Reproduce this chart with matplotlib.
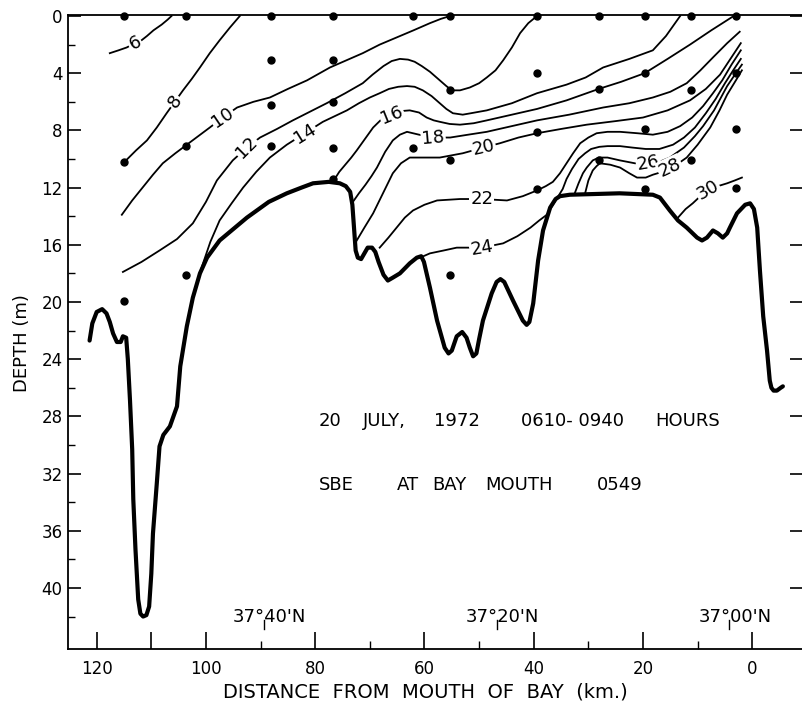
import matplotlib
matplotlib.use("Agg")
import matplotlib.pyplot as plt
from matplotlib.ticker import FixedLocator

# ---------------- data (distance km from bay mouth, depth m) ----------------
bottom_km = [121.3, 120.8, 120.0, 119.0, 118.2, 117.6, 117.0, 116.3, 115.6, 115.2, 114.6,
             114.3, 113.9, 113.5, 113.3, 112.9, 112.4, 112.0, 111.5, 110.9, 110.4,
             110.0, 109.7, 109.0, 108.5, 107.8, 106.6, 105.3, 104.7, 103.5, 102.4,
             101.1, 99.8, 97.5, 95.0, 92.5, 88.5, 85.2, 82.5, 80.4, 77.5,
             75.5, 74.4, 73.6, 73.2, 72.9, 72.6, 72.2, 71.6, 71.0, 70.4,
             69.6, 69.0, 68.4, 67.5, 66.7, 65.8, 64.5, 62.7, 61.4, 60.6,
             60.1, 59.0, 57.7, 56.3, 55.6, 55.0, 54.1, 53.1, 52.3, 51.7,
             51.1, 50.5, 50.0, 49.3, 47.7, 46.8, 46.1, 45.4, 43.8, 42.0,
             41.3, 40.8, 40.1, 39.2, 38.3, 37.0, 36.0, 35.2, 33.4, 24.3,
             18.2, 16.9, 15.1, 13.6, 12.0, 10.1, 9.2, 8.3, 7.2, 6.3,
             5.4, 4.6, 4.1, 2.8, 1.3, 0.4, -0.3, -0.9, -1.4, -2.0,
             -2.7, -3.2, -3.5, -3.9, -4.5, -5.2, -5.6]
bottom_depth = [22.7, 21.5, 20.7, 20.5, 20.8, 21.4, 22.2, 22.8, 22.8, 22.4, 22.5,
                24.0, 26.9, 30.3, 33.8, 37.3, 40.8, 41.8, 42.0, 41.9, 41.3,
                39.0, 36.2, 32.7, 30.1, 29.3, 28.7, 27.3, 24.5, 21.7, 19.7,
                18.0, 16.9, 15.7, 14.9, 14.1, 13.0, 12.4, 12.0, 11.7, 11.6,
                11.7, 11.9, 12.3, 13.2, 14.8, 16.4, 16.9, 17.0, 16.6, 16.2,
                16.2, 16.5, 17.2, 18.1, 18.5, 18.3, 18.0, 17.3, 16.9, 16.8,
                17.2, 19.0, 21.3, 23.2, 23.6, 23.4, 22.4, 22.1, 22.5, 23.2,
                23.8, 23.6, 22.6, 21.3, 19.4, 18.6, 18.4, 18.6, 19.9, 21.3,
                21.6, 21.4, 20.1, 17.1, 15.0, 13.4, 12.8, 12.6, 12.5, 12.4,
                12.5, 12.7, 13.6, 14.3, 14.8, 15.5, 15.7, 15.5, 15.0, 15.2,
                15.5, 15.2, 14.8, 13.8, 13.2, 13.1, 13.5, 14.8, 17.8, 21.0,
                23.4, 25.5, 26.0, 26.2, 26.2, 26.0, 25.9]

station_km = [115.0, 115.0, 115.0,
              103.7, 103.7, 103.7,
              88.1, 88.1, 88.1, 88.1,
              76.8, 76.8, 76.8, 76.8, 76.8,
              62.1, 62.1,
              55.3, 55.3, 55.3, 55.3,
              39.4, 39.4, 39.4, 39.4,
              28.1, 28.1, 28.1,
              19.7, 19.7, 19.7, 19.7,
              11.3, 11.3, 11.3,
              3.0, 3.0, 3.0, 3.0]
station_depth = [0.0, 10.2, 19.9,
                 0.0, 9.1, 18.1,
                 0.0, 3.1, 6.2, 9.1,
                 0.0, 3.1, 6.0, 9.2, 11.4,
                 0.0, 9.2,
                 0.0, 5.2, 10.1, 18.1,
                 0.0, 4.0, 8.1, 12.1,
                 0.0, 5.1, 10.1,
                 0.0, 4.0, 7.9, 12.1,
                 0.0, 5.2, 10.1,
                 0.0, 4.0, 7.9, 12.0]

s6_km = [117.6, 116.0, 114.5, 113.0, 111.8, 110.8, 109.6, 108.1, 107.0, 106.3]
s6_depth = [2.6, 2.4, 2.2, 1.9, 1.7, 1.4, 1.0, 0.6, 0.25, 0.0]

s8_km = [114.9, 112.8, 110.8, 109.0, 107.2, 105.7, 104.2, 102.6, 101.1, 99.3, 97.5, 95.6, 93.8]
s8_depth = [10.2, 9.4, 8.7, 7.8, 6.8, 6.0, 5.2, 4.4, 3.6, 2.6, 1.7, 0.8, 0.0]

s10_km = [115.4, 113.5, 111.6, 109.7, 107.9, 105.6, 103.5, 101.4, 99.3, 96.9, 94.3,
          91.3, 88.3, 85.0, 81.5, 77.3, 74.3, 71.3, 68.2, 65.1, 62.0, 59.0, 57.0, 55.3]
s10_depth = [13.9, 12.9, 12.0, 11.1, 10.3, 9.6, 9.0, 8.4, 7.8, 7.1, 6.4,
             6.0, 5.7, 5.1, 4.5, 3.6, 3.1, 2.6, 2.0, 1.5, 1.0, 0.5, 0.2, 0.0]

s12_km = [115.2, 111.8, 108.5, 105.3, 102.4, 100.0, 98.0, 95.1, 92.5, 90.1, 87.0,
          84.1, 81.0, 77.9, 74.5, 71.3, 69.5, 67.5, 66.0, 64.5, 63.0, 61.8, 60.5,
          59.0, 57.2, 56.0, 55.0, 53.5, 51.7, 50.0, 48.6, 47.0, 45.6, 44.0, 42.5,
          41.0, 39.4]
s12_depth = [17.9, 17.2, 16.4, 15.6, 14.5, 13.0, 11.5, 10.1, 9.2, 8.5, 7.9,
             7.3, 6.7, 6.1, 5.4, 4.7, 4.1, 3.5, 3.15, 3.0, 3.05, 3.2, 3.5,
             3.9, 4.5, 4.9, 5.2, 5.2, 5.0, 4.7, 4.3, 3.8, 3.1, 2.2, 1.2,
             0.5, 0.0]

s14_km = [100.8, 99.2, 97.5, 95.3, 93.2, 90.8, 88.3, 85.2, 81.9, 78.6, 74.2, 72.0,
          70.0, 68.2, 66.5, 64.8, 63.2, 61.8, 60.3, 58.7, 57.2, 56.0, 54.8, 53.0,
          51.5, 48.6, 44.0, 39.4, 34.0, 30.5, 27.3, 22.5, 18.2, 15.8, 13.2]
s14_depth = [17.6, 15.8, 14.3, 13.1, 12.0, 10.9, 9.9, 9.0, 8.2, 7.4, 6.6, 6.1,
             5.7, 5.4, 5.1, 4.95, 4.9, 4.95, 5.2, 5.6, 6.1, 6.5, 6.8, 6.9,
             6.8, 6.6, 6.1, 5.4, 4.8, 4.3, 3.6, 3.0, 2.4, 1.4, 0.0]

s16_km = [76.6, 75.6, 74.5, 73.4, 72.4, 70.9, 69.4, 67.8, 66.0, 64.3, 62.7, 61.0,
          59.6, 58.3, 57.2, 55.4, 53.5, 51.0, 48.6, 44.0, 39.4, 34.0, 28.1, 24.0,
          19.7, 15.5, 11.4, 7.5, 3.4]
s16_depth = [11.5, 10.9, 10.4, 9.9, 9.4, 8.6, 7.8, 7.2, 6.9, 6.65, 6.6, 6.75,
             7.1, 7.3, 7.4, 7.55, 7.6, 7.5, 7.3, 6.9, 6.5, 5.9, 5.1, 4.6,
             4.0, 3.0, 2.0, 1.0, 0.0]

s18_km = [73.1, 72.0, 70.8, 69.7, 68.7, 67.2, 65.8, 64.5, 63.2, 61.0, 58.4, 55.3,
          52.0, 48.6, 44.0, 39.4, 33.5, 27.3, 22.5, 18.2, 15.0, 12.0, 9.5, 7.2, 4.6, 2.3]
s18_depth = [13.0, 12.4, 11.8, 11.2, 10.6, 9.5, 8.7, 8.3, 8.1, 8.3, 8.5, 8.5,
             8.3, 8.1, 7.7, 7.3, 6.9, 6.4, 6.1, 5.7, 5.3, 4.7, 3.8, 2.9, 1.9, 1.1]

s20_km = [72.4, 71.0, 69.4, 67.6, 65.8, 64.3, 62.7, 60.0, 57.2, 53.0, 49.2, 46.2,
          42.8, 39.4, 35.0, 30.3, 25.0, 20.0, 15.5, 11.4, 8.5, 5.9, 4.0, 2.1]
s20_depth = [15.7, 14.8, 13.8, 12.4, 11.0, 10.3, 9.9, 9.9, 9.9, 9.6, 9.2, 8.9,
             8.5, 8.2, 7.9, 7.6, 7.35, 7.1, 6.6, 5.9, 5.1, 4.1, 3.0, 1.9]

s22_km = [68.2, 66.6, 65.1, 63.6, 62.1, 60.0, 57.7, 53.5, 49.5, 44.9, 42.0, 39.4,
          37.8, 36.5, 35.2, 34.0, 32.8, 31.5, 30.0, 28.5, 26.5, 24.2, 21.0, 18.2,
          15.5, 13.2, 11.0, 9.0, 7.2, 5.5, 3.8, 2.1]
s22_depth = [16.2, 15.5, 14.8, 14.1, 13.6, 13.2, 12.9, 12.8, 12.8, 12.9, 12.6, 12.2,
             11.9, 11.6, 11.0, 10.3, 9.6, 8.9, 8.5, 8.2, 8.1, 8.1, 8.2, 8.3,
             8.1, 7.7, 7.1, 6.3, 5.4, 4.5, 3.4, 2.4]

s24_km = [60.8, 59.0, 56.5, 54.1, 49.5, 45.6, 43.0, 40.6, 39.0, 37.6, 36.5, 35.5,
          34.7, 34.0, 33.0, 31.8, 30.6, 29.5, 28.0, 26.5, 24.2, 22.0, 19.5, 17.0,
          14.5, 12.5, 10.5, 8.5, 6.7, 5.0, 3.5, 2.1]
s24_depth = [16.9, 16.6, 16.4, 16.2, 16.2, 15.9, 15.4, 14.8, 14.3, 13.9, 13.2, 12.6,
             12.1, 11.4, 10.7, 10.0, 9.6, 9.3, 9.15, 9.1, 9.1, 9.2, 9.3, 9.3,
             9.0, 8.5, 7.8, 6.8, 5.8, 4.7, 3.8, 3.0]

s26_km = [32.5, 31.8, 31.0, 30.3, 29.2, 28.1, 26.5, 24.2, 21.5, 19.0, 17.0, 15.1,
          12.5, 10.5, 9.0, 7.0, 4.6, 3.0, 1.9]
s26_depth = [12.4, 11.7, 11.0, 10.6, 10.1, 9.9, 9.9, 10.1, 10.3, 10.3, 10.2, 9.9,
             9.2, 8.4, 7.7, 6.6, 4.9, 4.0, 3.4]

s28_km = [30.6, 30.0, 29.2, 28.5, 27.9, 26.0, 24.2, 22.5, 21.1, 19.5, 18.2, 16.5,
          15.1, 13.5, 12.0, 10.0, 7.7, 6.0, 4.6, 3.0, 1.9]
s28_depth = [12.4, 11.5, 10.8, 10.5, 10.3, 10.4, 10.6, 11.0, 11.3, 11.3, 11.1, 10.9,
             10.6, 10.3, 9.9, 9.0, 7.8, 6.6, 5.5, 4.5, 3.8]

s30_km = [13.6, 12.2, 10.9, 9.5, 8.1, 6.3, 4.6, 3.2, 1.9]
s30_depth = [14.1, 13.5, 13.1, 12.6, 12.2, 11.9, 11.7, 11.5, 11.3]

isohaline_values = [6, 8, 10, 12, 14, 16, 18, 20, 22, 24, 26, 28, 30]
isohaline_lines = [(s6_km, s6_depth), (s8_km, s8_depth), (s10_km, s10_depth),
                   (s12_km, s12_depth), (s14_km, s14_depth), (s16_km, s16_depth),
                   (s18_km, s18_depth), (s20_km, s20_depth), (s22_km, s22_depth),
                   (s24_km, s24_depth), (s26_km, s26_depth), (s28_km, s28_depth),
                   (s30_km, s30_depth)]
# label placement: (km, depth, rotation)
label_place = {6: (113.0, 1.9, 28), 8: (105.7, 6.0, 54), 10: (96.9, 7.1, 34),
               12: (92.5, 9.2, 45), 14: (81.9, 8.2, 32), 16: (66.0, 6.9, 22),
               18: (58.4, 8.5, 5), 20: (49.2, 9.2, 13), 22: (49.5, 12.8, 0),
               24: (49.5, 16.2, 10), 26: (19.0, 10.3, 10), 28: (15.1, 10.6, 25),
               30: (8.1, 12.2, 30)}

y_ticks = [0, 4, 8, 12, 16, 20, 24, 28, 32, 36, 40]
x_tick_values = [120, 100, 80, 60, 40, 20, 0]
lat_labels = ["37°40'N", "37°20'N", "37°00'N"]
lat_km = [89.4, 46.8, 4.3]

# ---------------- figure ----------------
fig = plt.figure(figsize=(8.02, 7.04), dpi=100)
ax = fig.add_axes([68 / 802, 55 / 704, 734 / 802, 634 / 704])
ax.set_xlim(125.25, -9.1)
ax.set_ylim(44.27, -0.07)

ax.plot(bottom_km, bottom_depth, color="black", lw=3.0, solid_joinstyle="round",
        solid_capstyle="round", zorder=3)

for val, (xs, ds) in zip(isohaline_values, isohaline_lines):
    ax.plot(xs, ds, color="black", lw=1.3, zorder=2, solid_joinstyle="round")
    lx, ld, rot = label_place[val]
    ax.text(lx, ld, str(val), rotation=rot, ha="center", va="center", fontsize=13,
            rotation_mode="anchor",
            bbox=dict(facecolor="white", edgecolor="none", pad=0.8), zorder=4)

ax.plot(station_km, station_depth, "o", color="black", ms=5, zorder=5, clip_on=False)

# annotation words
line1 = [("20", 79.3), ("JULY,", 71.3), ("1972", 58.3), ("0610- 0940", 42.3), ("HOURS", 17.8)]
line2 = [("SBE", 79.4), ("AT", 65.0), ("BAY", 58.6), ("MOUTH", 48.9), ("0549", 28.5)]
for w, k in line1:
    ax.text(k, 28.3, w, ha="left", va="center", fontsize=13)
for w, k in line2:
    ax.text(k, 32.8, w, ha="left", va="center", fontsize=13)

for lab, k in zip(lat_labels, lat_km):
    ax.text(k - 1.1, 42.0, lab, ha="center", va="center", fontsize=13)
    ax.plot([k, k], [42.25, 42.85], color="black", lw=1.0)

# axes styling
for side in ["left", "bottom", "top"]:
    ax.spines[side].set_linewidth(1.3)
ax.spines["right"].set_visible(False)

ax.yaxis.set_major_locator(FixedLocator(y_ticks))
ax.yaxis.set_minor_locator(FixedLocator([2, 6, 10, 14, 18, 22, 26, 30, 34, 38, 42]))
ax.set_yticklabels([str(v) for v in y_ticks])
ax.tick_params(axis="y", which="major", direction="in", length=9, width=1.2,
               left=True, right=True, labelsize=12, pad=4)
ax.tick_params(axis="y", which="minor", direction="in", length=5, width=1.0,
               left=True, right=False)

ax.xaxis.set_major_locator(FixedLocator(x_tick_values + [110]))
ax.set_xticklabels([str(v) for v in x_tick_values] + [""])
ax.xaxis.set_minor_locator(FixedLocator([90, 70, 50, 30, 10]))
ax.tick_params(axis="x", which="major", direction="in", length=12, width=1.2,
               top=False, labelsize=12, pad=8)
ax.tick_params(axis="x", which="minor", direction="in", length=6, width=1.0, top=False)

fig.text(22 / 802, 1 - 343 / 704, "DEPTH (m)", rotation=90, ha="center", va="center",
         fontsize=13)
fig.text(425.5 / 802, 1 - 692 / 704, "DISTANCE  FROM  MOUTH  OF  BAY  (km.)",
         ha="center", va="center", fontsize=14)

fig.savefig("out.png", dpi=100)
